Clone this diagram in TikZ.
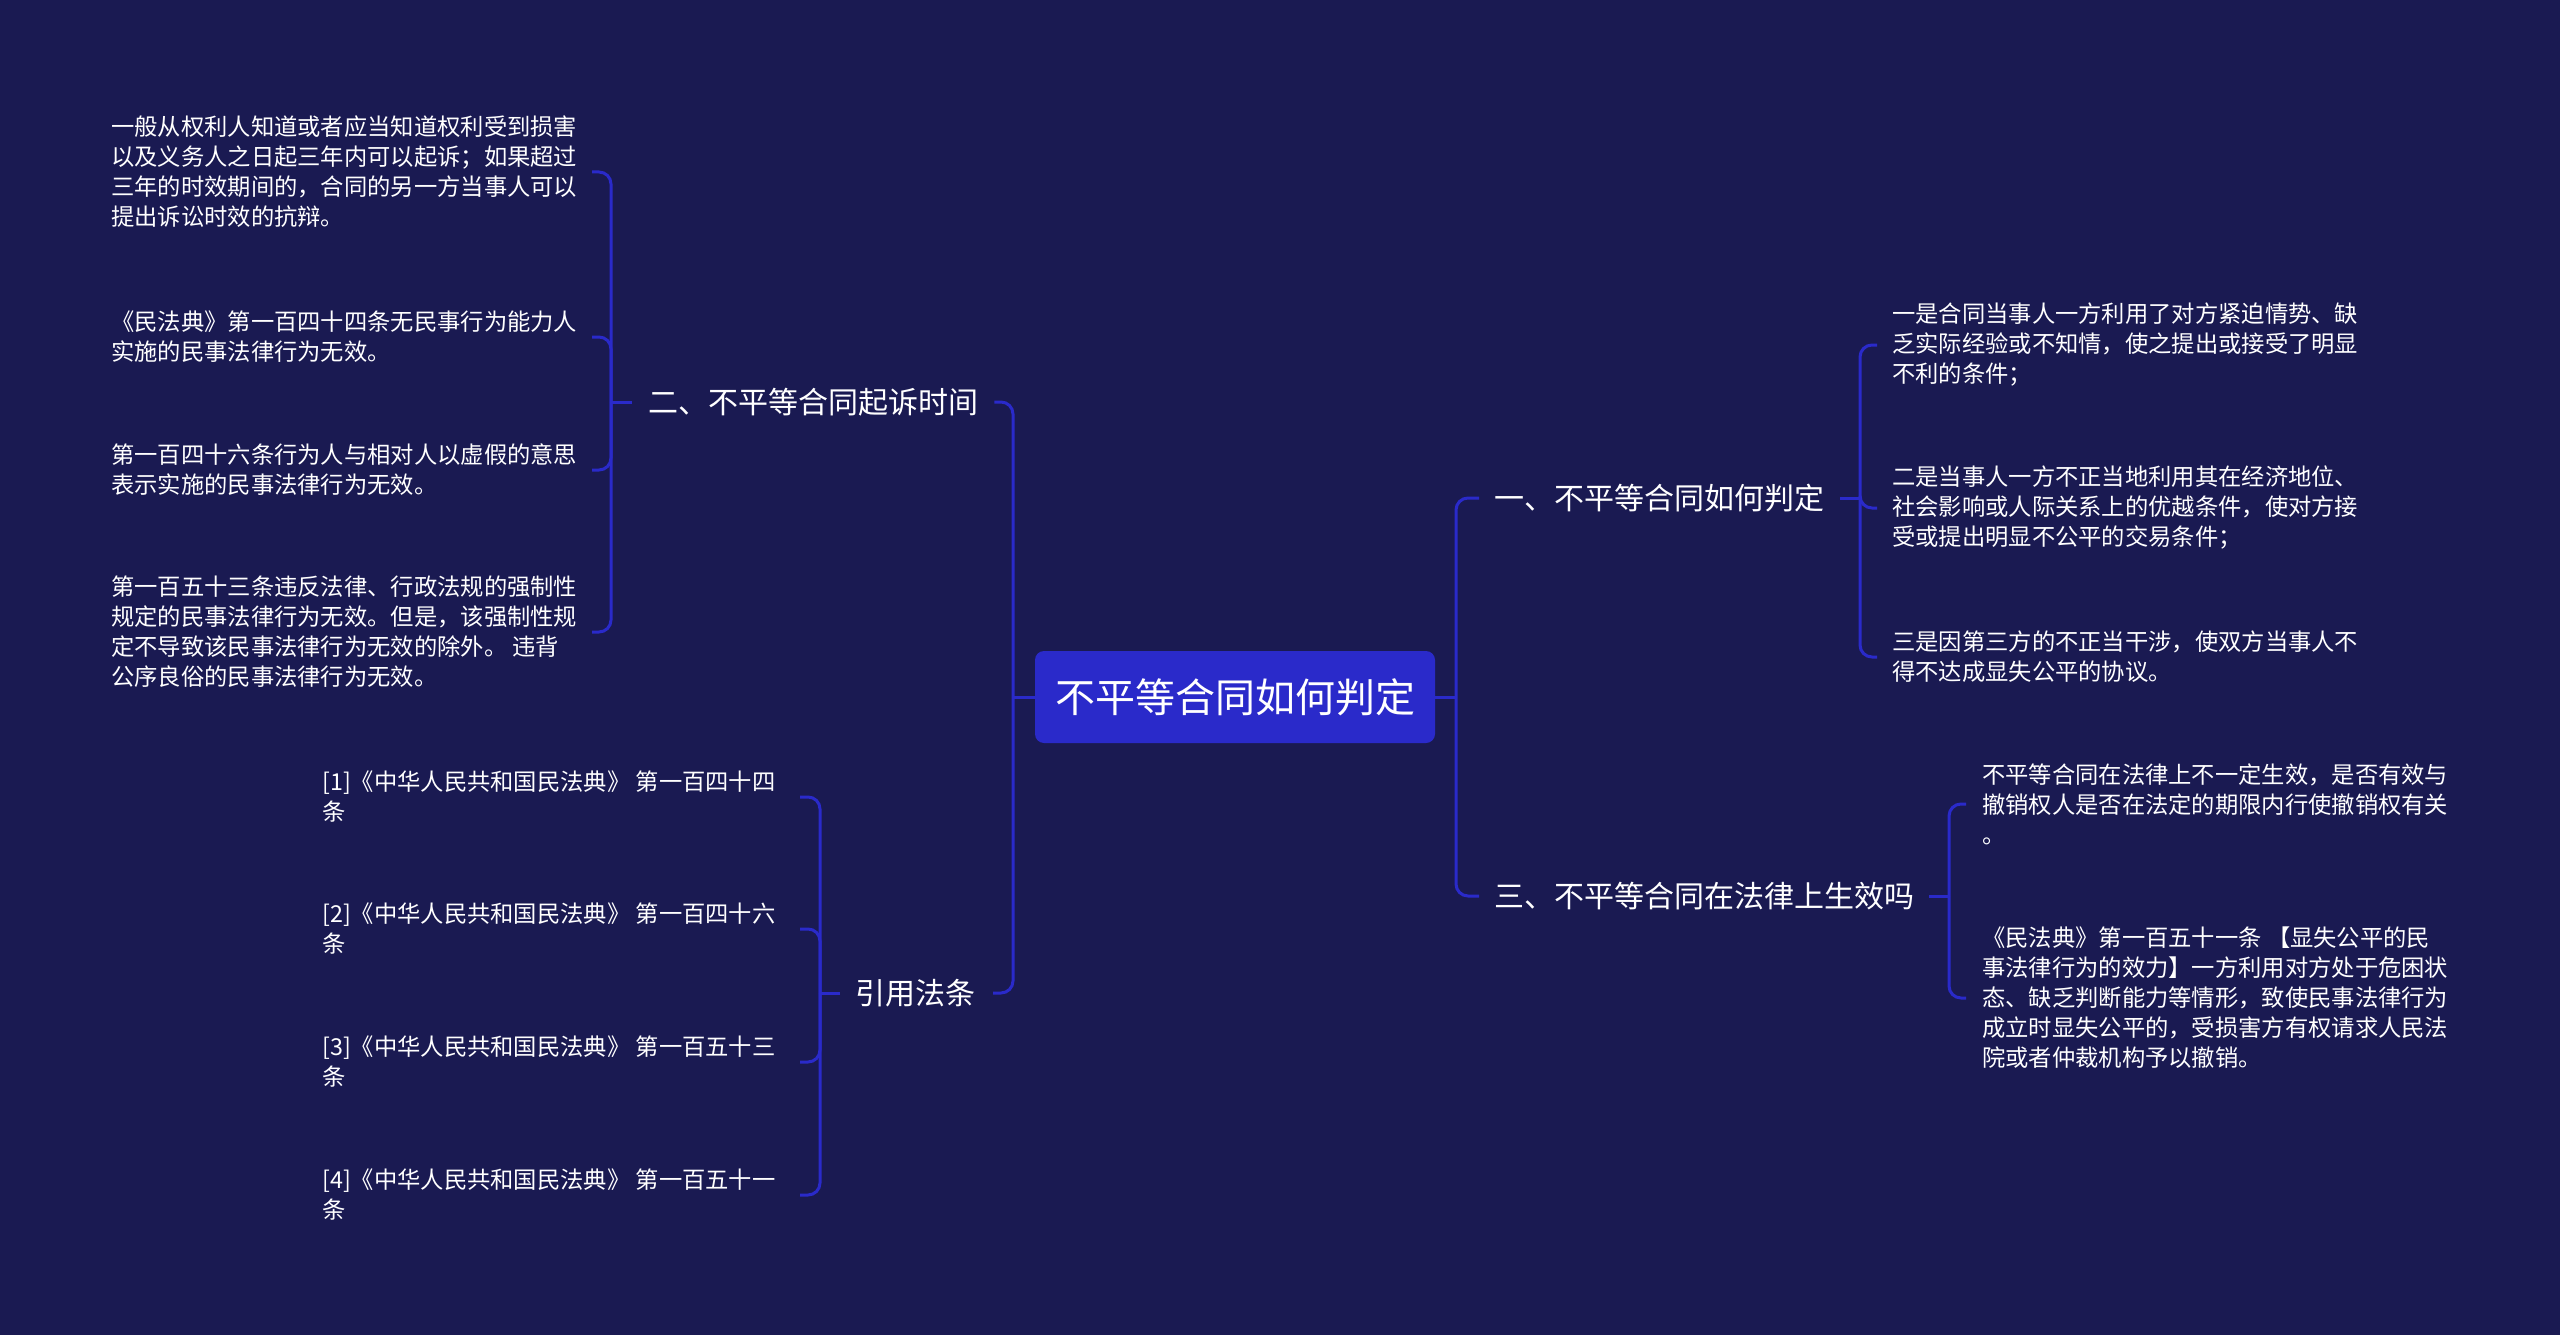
\documentclass[tikz,border=0pt]{standalone}
\usepackage{fontspec}
\setmainfont{Noto Sans CJK SC}
\definecolor{bg}{RGB}{26,26,82}
\definecolor{accent}{RGB}{42,42,202}
\begin{document}
\begin{tikzpicture}[x=1pt,y=-1pt,
  conn/.style={draw=accent, line width=3pt, rounded corners=12pt},
  leaf/.style={text=white, font=\fontsize{23.3}{30}\selectfont, align=left, inner sep=0pt, anchor=west},
  branch/.style={text=white, font=\fontsize{30}{36}\selectfont, inner sep=0pt},
  rootbox/.style={fill=accent, rounded corners=9pt, text=white, font=\fontsize{40}{48}\selectfont, minimum width=400pt, minimum height=92pt, inner sep=0pt}]
\fill[bg] (0,0) rectangle (2560,1335);
\useasboundingbox (0,0) rectangle (2560,1335);

% root and branches
\node[rootbox] (root) at (1235,697) {不平等合同如何判定};
\node[branch, anchor=west] (b2) at (648,402) {二、不平等合同起诉时间};
\node[branch, anchor=east] (bref) at (976,993) {引用法条};
\node[branch, anchor=west] (b1) at (1494,498) {一、不平等合同如何判定};
\node[branch, anchor=west] (b3) at (1494,896) {三、不平等合同在法律上生效吗};

% leaves of branch 二
\node[leaf] (c1) at (111,172) {一般从权利人知道或者应当知道权利受到损害\\以及义务人之日起三年内可以起诉；如果超过\\三年的时效期间的，合同的另一方当事人可以\\提出诉讼时效的抗辩。};
\node[leaf] (c2) at (111,337) {《民法典》第一百四十四条无民事行为能力人\\实施的民事法律行为无效。};
\node[leaf] (c3) at (111,470) {第一百四十六条行为人与相对人以虚假的意思\\表示实施的民事法律行为无效。};
\node[leaf] (c4) at (111,632) {第一百五十三条违反法律、行政法规的强制性\\规定的民事法律行为无效。但是，该强制性规\\定不导致该民事法律行为无效的除外。 违背\\公序良俗的民事法律行为无效。};

% leaves of 引用法条
\node[leaf] (r1) at (322,797) {[1]《中华人民共和国民法典》 第一百四十四\\条};
\node[leaf] (r2) at (322,929) {[2]《中华人民共和国民法典》 第一百四十六\\条};
\node[leaf] (r3) at (322,1062) {[3]《中华人民共和国民法典》 第一百五十三\\条};
\node[leaf] (r4) at (322,1195) {[4]《中华人民共和国民法典》 第一百五十一\\条};

% leaves of branch 一
\node[leaf] (a1) at (1892,345) {一是合同当事人一方利用了对方紧迫情势、缺\\乏实际经验或不知情，使之提出或接受了明显\\不利的条件；};
\node[leaf] (a2) at (1892,508) {二是当事人一方不正当地利用其在经济地位、\\社会影响或人际关系上的优越条件，使对方接\\受或提出明显不公平的交易条件；};
\node[leaf] (a3) at (1892,657) {三是因第三方的不正当干涉，使双方当事人不\\得不达成显失公平的协议。};

% leaves of branch 三
\node[leaf] (d1) at (1982,804) {不平等合同在法律上不一定生效，是否有效与\\撤销权人是否在法定的期限内行使撤销权有关\\。};
\node[leaf] (d2) at (1982,998) {《民法典》第一百五十一条 【显失公平的民\\事法律行为的效力】一方利用对方处于危困状\\态、缺乏判断能力等情形，致使民事法律行为\\成立时显失公平的，受损害方有权请求人民法\\院或者仲裁机构予以撤销。};

% helper coordinates
\coordinate (lt) at (1013,697);
\coordinate (rt) at (1456,697);
\coordinate (k2) at (611,402);
\coordinate (kref) at (820,993);
\coordinate (k1) at (1860,498);
\coordinate (k3) at (1949,896);
\coordinate (xc) at (592,0);
\coordinate (xr) at (800,0);
\coordinate (xa) at (1877,0);
\coordinate (xd) at (1966,0);

% main trunks
\draw[conn] (root.west) -- (lt);
\draw[conn] (root.east) -- (rt);
\draw[conn] (lt) |- ([xshift=16pt]b2.east);
\draw[conn] (lt) |- ([xshift=17pt]bref.east);
\draw[conn] (rt) |- ([xshift=-15pt]b1.west);
\draw[conn] (rt) |- ([xshift=-15pt]b3.west);

% branch stubs
\draw[conn] ([xshift=-16pt]b2.west) -- (k2);
\draw[conn] ([xshift=-16pt]bref.west) -- (kref);
\draw[conn] ([xshift=16pt]b1.east) -- (k1);
\draw[conn] ([xshift=15pt]b3.east) -- (k3);

% leaf connectors
\foreach \c in {c1,c2,c3,c4} \draw[conn] (k2) |- (\c.east -| xc);
\foreach \c in {r1,r2,r3,r4} \draw[conn] (kref) |- (\c.east -| xr);
\foreach \c in {a1,a2,a3} \draw[conn] (k1) |- (\c.west -| xa);
\foreach \c in {d1,d2} \draw[conn] (k3) |- (\c.west -| xd);
\end{tikzpicture}
\end{document}
